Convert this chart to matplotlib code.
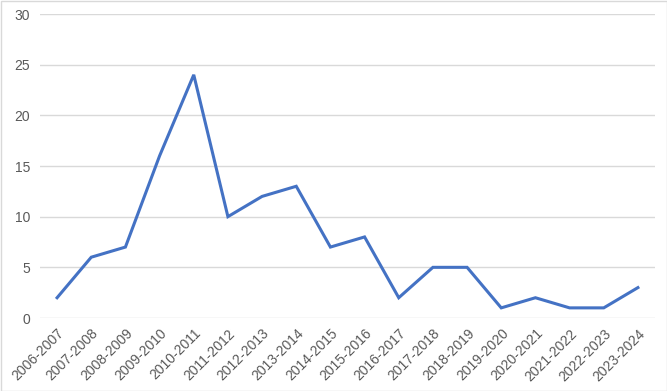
import matplotlib.pyplot as plt
from matplotlib.patches import Rectangle

seasons = ["2006-2007", "2007-2008", "2008-2009", "2009-2010", "2010-2011",
           "2011-2012", "2012-2013", "2013-2014", "2014-2015", "2015-2016",
           "2016-2017", "2017-2018", "2018-2019", "2019-2020", "2020-2021",
           "2021-2022", "2022-2023", "2023-2024"]
counts = [2, 6, 7, 16, 24, 10, 12, 13, 7, 8, 2, 5, 5, 1, 2, 1, 1, 3]
y_ticks = [0, 5, 10, 15, 20, 25, 30]

plt.rcParams['font.family'] = ['Liberation Sans', 'DejaVu Sans']

fig = plt.figure(figsize=(6.67, 3.91), dpi=100)
ax = fig.add_axes([40 / 667, 1 - 318 / 391, 615 / 667, 304 / 391])

x = range(len(seasons))
ax.plot(x, counts, color="#4472C4", linewidth=2.2, solid_joinstyle="miter")

ax.set_xlim(-0.5, len(seasons) - 0.5)
ax.set_ylim(0, 30)
ax.set_yticks(y_ticks)
ax.set_xticks(list(x))
ax.set_xticklabels(seasons, rotation=45, ha="right", rotation_mode="anchor")
ax.tick_params(axis="both", length=0, labelsize=10, labelcolor="#595959")
ax.tick_params(axis="y", pad=7)
ax.tick_params(axis="x", pad=6)
ax.grid(axis="y", color="#D9D9D9", linewidth=1)
ax.set_axisbelow(True)
for s in ax.spines.values():
    s.set_visible(False)

fig.patches.append(Rectangle((0.5 / 667, 0.5 / 391), 666 / 667, 390 / 391,
                             transform=fig.transFigure, fill=False,
                             edgecolor="#D9D9D9", linewidth=1))

plt.savefig("out.png", dpi=100)
